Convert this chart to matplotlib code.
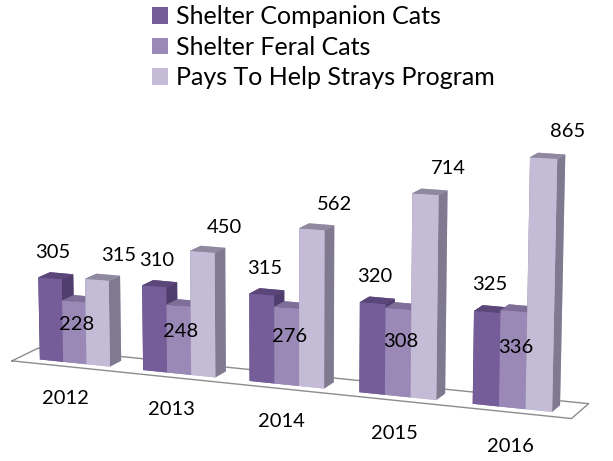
import numpy as np
import matplotlib
matplotlib.use('Agg')
import matplotlib.pyplot as plt
from matplotlib.patches import Patch
from mpl_toolkits.mplot3d import proj3d

years = ['2012', '2013', '2014', '2015', '2016']
companion = [305, 310, 315, 320, 325]
feral = [228, 248, 276, 308, 336]
pays = [315, 450, 562, 714, 865]
series_names = ['Shelter Companion Cats', 'Shelter Feral Cats', 'Pays To Help Strays Program']

# front, top and right-side face colours per series
front = ['#755d99', '#9a89b7', '#c4bcd7']
top = ['#5a4679', '#7e6e98', '#8f89a0']
side = ['#4f3d6d', '#8a7ba6', '#807a90']

plt.rcParams['font.family'] = ['Lato', 'DejaVu Sans']

W, H = 613, 461
fig = plt.figure(figsize=(W / 100, H / 100), dpi=100)
# 3D axes are forced square, so give it a square box (pixels) bigger than the figure
side_px, cx, cy = 640, 283, 196
ax = fig.add_axes([(cx - side_px / 2) / W, (cy - side_px / 2) / H, side_px / W, side_px / H],
                  projection='3d')
ax.computed_zorder = False

group_step = 4.4
xs, heights, cols = [], [], []
for s, vals in enumerate([companion, feral, pays]):
    for g, v in enumerate(vals):
        xs.append(g * group_step + s)
        heights.append(v)
        # faces: -z, +z, -y, +y, -x, +x
        cols.extend([front[s], top[s], front[s], front[s], side[s], side[s]])
xs = np.array(xs, dtype=float)
heights = np.array(heights, dtype=float)

# floor outline
fx0, fx1 = -0.9, (len(years) - 1) * group_step + 3.9
fy0, fy1 = -0.6, 1.6
ax.plot([fx0, fx1, fx1, fx0, fx0], [fy0, fy0, fy1, fy1, fy0], [0] * 5,
        color='#8c8c8c', lw=1.0, zorder=0)

ax.bar3d(xs, np.zeros_like(xs), np.zeros_like(xs), 1.0, 1.0, heights,
         color=cols, shade=False, edgecolor='none', zorder=1)

ax.set_xlim(fx0, fx1)
ax.set_ylim(fy0, fy1)
ax.set_zlim(0, 900)
ax.set_box_aspect((fx1 - fx0, fy1 - fy0, 9.6), zoom=1.0)
ax.set_proj_type('persp', focal_length=0.8)
ax.view_init(elev=12, azim=-68)
ax.set_axis_off()

fig.canvas.draw()


def label(x, y, z, s, size=14.5):
    # project a 3D anchor to figure coordinates and put a flat text there
    px, py, _ = proj3d.proj_transform(x, y, z, ax.get_proj())
    fx, fy = fig.transFigure.inverted().transform(ax.transData.transform((px, py)))
    fig.text(fx, fy, s, ha='center', va='center', fontsize=size)


for g, yr in enumerate(years):
    x0 = g * group_step
    label(x0 + 0.4, 0.5, companion[g] + 85, str(companion[g]))
    label(x0 + 1.6, 0.0, feral[g] * 0.63, str(feral[g]))
    label(x0 + 3.2, 0.5, pays[g] + 85, str(pays[g]))
    label(x0 + 2.1, -2.0, -80, yr)

handles = [Patch(facecolor=c, edgecolor='none') for c in front]
fig.legend(handles, series_names, loc='upper left', bbox_to_anchor=(0.232, 1.01),
           frameon=False, fontsize=18, handlelength=0.65, handleheight=0.65,
           handletextpad=0.3, labelspacing=0.3, borderaxespad=0.0)

fig.savefig('out.png', dpi=100)
